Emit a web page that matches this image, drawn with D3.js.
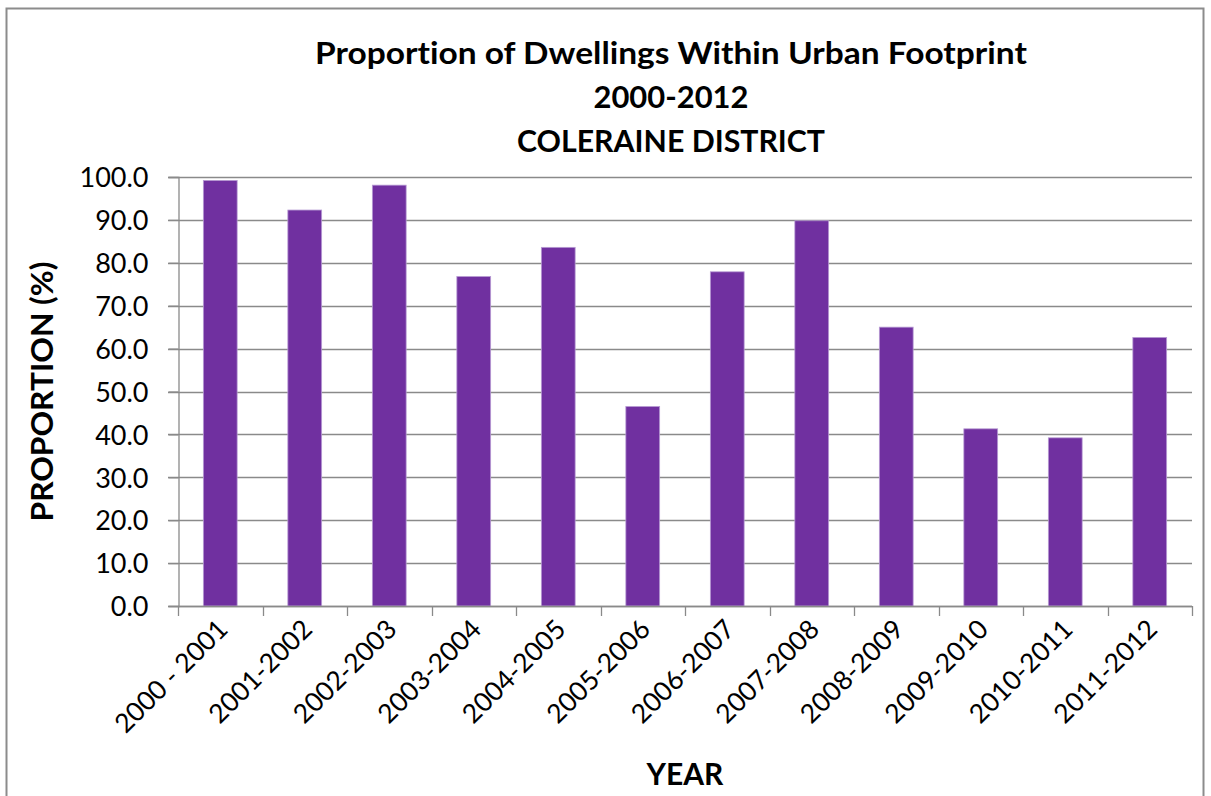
<!DOCTYPE html>
<html>
<head>
<meta charset="utf-8">
<script src="https://cdn.jsdelivr.net/npm/d3@7"></script>
<style>
  html, body { margin: 0; padding: 0; background: #ffffff; }
  svg { display: block; }
  text { font-family: Lato, "Open Sans", sans-serif; fill: #000; font-variant-ligatures: none; }
</style>
</head>
<body>
<svg id="chart" width="1211" height="796"></svg>
<script>
// Financial years and share of new dwellings inside the urban footprint (%)
const years = ["2000 - 2001", "2001-2002", "2002-2003", "2003-2004", "2004-2005", "2005-2006",
               "2006-2007", "2007-2008", "2008-2009", "2009-2010", "2010-2011", "2011-2012"];
const proportion = [99.2, 92.3, 98.1, 76.8, 83.6, 46.5, 77.9, 89.8, 65.0, 41.3, 39.2, 62.6];
const yTicks = [0, 10, 20, 30, 40, 50, 60, 70, 80, 90, 100];
const titleLines = ["Proportion of Dwellings Within Urban Footprint", "2000-2012", "COLERAINE DISTRICT"];
const titleWidths = [712, 155, 308];

const svg = d3.select("#chart");
const plot = { left: 178, right: 1192, top: 177, bottom: 606 };

// chart frame
svg.append("rect")
  .attr("x", 6.5).attr("y", 8.5)
  .attr("width", 1197).attr("height", 800)
  .attr("fill", "#fff").attr("stroke", "#8c8c8c").attr("stroke-width", 2);

const x = d3.scaleBand().domain(years).range([plot.left, plot.right]).paddingInner(0.6).paddingOuter(0.3);
const y = d3.scaleLinear().domain([0, 100]).range([plot.bottom, plot.top]);

// horizontal gridlines
svg.append("g")
  .selectAll("line")
  .data(yTicks)
  .join("line")
  .attr("x1", plot.left - 10).attr("x2", plot.right)
  .attr("y1", d => Math.round(y(d)) + 0.5).attr("y2", d => Math.round(y(d)) + 0.5)
  .attr("stroke", "#8a8a8a").attr("stroke-width", 1.3);

// bars
svg.append("g")
  .selectAll("rect")
  .data(proportion)
  .join("rect")
  .attr("x", (d, i) => x(years[i]))
  .attr("width", x.bandwidth())
  .attr("y", d => y(d))
  .attr("height", d => y(0) - y(d))
  .attr("fill", "#7030a0")
  .attr("stroke", "#b79bd3").attr("stroke-width", 0.8);

// y axis
const yAxis = d3.axisLeft(y).tickValues(yTicks).tickFormat(d3.format(".1f")).tickSize(10).tickPadding(20);
const gy = svg.append("g").attr("transform", `translate(${plot.left + 0.5},0)`).call(yAxis);
gy.select(".domain").attr("stroke", "#8a8a8a").attr("stroke-width", 1.3);
gy.selectAll(".tick line").attr("stroke", "#8a8a8a").attr("stroke-width", 1.3);
gy.selectAll(".tick text").style("font-size", "27px").attr("fill", "#000").attr("dy", "0.36em");

// x axis: ticks at category boundaries
const xEdges = d3.range(years.length + 1).map(i => plot.left + i * x.step());
svg.append("line")
  .attr("x1", plot.left).attr("x2", plot.right)
  .attr("y1", plot.bottom + 0.5).attr("y2", plot.bottom + 0.5)
  .attr("stroke", "#8a8a8a").attr("stroke-width", 1.3);
svg.append("g")
  .selectAll("line")
  .data(xEdges)
  .join("line")
  .attr("x1", d => Math.round(d) + 0.5).attr("x2", d => Math.round(d) + 0.5)
  .attr("y1", plot.bottom).attr("y2", plot.bottom + 10)
  .attr("stroke", "#8a8a8a").attr("stroke-width", 1.3);

// rotated category labels
svg.append("g")
  .selectAll("text")
  .data(years)
  .join("text")
  .attr("transform", d => `translate(${x(d) + x.bandwidth() / 2 + 9},631) rotate(-45)`)
  .attr("text-anchor", "end")
  .style("font-size", "26.5px")
  .text(d => d);

// title
svg.append("g")
  .selectAll("text")
  .data(titleLines)
  .join("text")
  .attr("x", 671)
  .attr("y", (d, i) => 64 + i * 44)
  .attr("text-anchor", "middle")
  .attr("textLength", (d, i) => titleWidths[i])
  .attr("lengthAdjust", "spacingAndGlyphs")
  .style("font-size", "30px").style("font-weight", "bold")
  .text(d => d);

// axis titles
svg.append("text")
  .attr("transform", `translate(53,${(plot.top + plot.bottom) / 2}) rotate(-90)`)
  .attr("text-anchor", "middle")
  .attr("textLength", 260)
  .attr("lengthAdjust", "spacingAndGlyphs")
  .style("font-size", "30px").style("font-weight", "bold")
  .text("PROPORTION (%)");

svg.append("text")
  .attr("x", (plot.left + plot.right) / 2).attr("y", 785)
  .attr("text-anchor", "middle")
  .style("font-size", "30px").style("font-weight", "bold")
  .text("YEAR");
</script>
</body>
</html>
